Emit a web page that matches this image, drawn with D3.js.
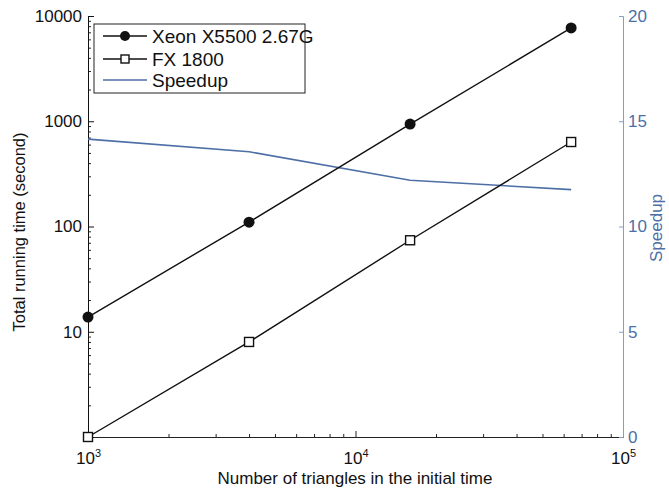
<!DOCTYPE html>
<html>
<head>
<meta charset="utf-8">
<script src="https://cdn.jsdelivr.net/npm/d3@7"></script>
<style>
  html, body { margin: 0; padding: 0; background: #fff; }
  svg { display: block; font-family: "Liberation Sans", Arial, sans-serif; }
</style>
</head>
<body>
<svg id="chart" width="669" height="491"></svg>
<script>
// Problem sizes (number of triangles)
const triangles = [1000, 4000, 16000, 64000];
// Total running time in seconds
const xeonTime = [13.8, 110, 940, 7700];
const fxTime = [1.0, 8.0, 74, 635];
// GPU speedup over CPU
const speedup = [14.15, 13.55, 12.2, 11.75];

const seriesNames = ["Xeon X5500 2.67G", "FX 1800", "Speedup"];
const xTickExps = [3, 4, 5];
const yTickValues = [10, 100, 1000, 10000];
const rightTickValues = [0, 5, 10, 15, 20];

const blue = "#4d6fa6";
const svg = d3.select("#chart");
const plotL = 88, plotR = 623, plotT = 16, plotB = 437;

const x = d3.scaleLog().domain([1e3, 1e5]).range([plotL, plotR]);
const y = d3.scaleLog().domain([1, 1e4]).range([plotB, plotT]);
const y2 = d3.scaleLinear().domain([0, 20]).range([plotB, plotT]);

// minor log ticks
const minorX = [];
[3, 4].forEach(e => { for (let m = 2; m <= 9; m++) minorX.push(m * Math.pow(10, e)); });
const minorY = [];
[0, 1, 2, 3].forEach(e => { for (let m = 2; m <= 9; m++) minorY.push(m * Math.pow(10, e)); });

function styleAxis(g, color) {
  g.select(".domain").attr("stroke", color).attr("stroke-width", 1);
  g.selectAll(".tick line").attr("stroke", color);
  g.selectAll(".tick text").attr("fill", color);
}

// bottom axis: minor + major ticks pointing inward
const gxMinor = svg.append("g").attr("transform", `translate(0,${plotB})`)
  .call(d3.axisBottom(x).tickValues(minorX).tickSize(-3).tickFormat(""));
styleAxis(gxMinor, "#222");
const gx = svg.append("g").attr("transform", `translate(0,${plotB})`)
  .call(d3.axisBottom(x).tickValues(xTickExps.map(e => Math.pow(10, e))).tickSize(-6).tickFormat(""));
styleAxis(gx, "#222");
gx.selectAll(".tick").append("text")
  .attr("y", 27).attr("text-anchor", "middle").attr("fill", "#111")
  .attr("font-size", 17)
  .each(function(d) {
    const t = d3.select(this);
    t.append("tspan").text("10");
    t.append("tspan").attr("dy", -7).attr("font-size", 11).text(Math.round(Math.log10(d)));
  });

// left axis
const gyMinor = svg.append("g").attr("transform", `translate(${plotL},0)`)
  .call(d3.axisLeft(y).tickValues(minorY).tickSize(-3).tickFormat(""));
styleAxis(gyMinor, "#222");
const gy = svg.append("g").attr("transform", `translate(${plotL},0)`)
  .call(d3.axisLeft(y).tickValues(yTickValues).tickSize(-6).tickPadding(6).tickFormat(d3.format("d")));
styleAxis(gy, "#111");
gy.selectAll(".tick text").attr("font-size", 17).attr("font-family", "Liberation Sans, Arial, sans-serif");

// right axis (speedup)
const gy2 = svg.append("g").attr("transform", `translate(${plotR},0)`)
  .call(d3.axisRight(y2).tickValues(rightTickValues).tickSize(-4).tickPadding(5));
styleAxis(gy2, "#8a9cc0");
gy2.selectAll(".tick text").attr("fill", blue).attr("font-size", 17)
  .attr("font-family", "Liberation Sans, Arial, sans-serif");

// axis titles
svg.append("text").attr("x", 355).attr("y", 484)
  .attr("text-anchor", "middle").attr("font-size", 17).attr("fill", "#111")
  .text("Number of triangles in the initial time");
svg.append("text").attr("transform", `translate(25,232) rotate(-90)`)
  .attr("text-anchor", "middle").attr("font-size", 16.5).attr("fill", "#111")
  .text("Total running time (second)");
svg.append("text").attr("transform", `translate(662,228) rotate(-90)`)
  .attr("text-anchor", "middle").attr("font-size", 17).attr("fill", blue)
  .text("Speedup");

// series
const lineLog = vals => d3.line().x((d, i) => x(triangles[i])).y(d => y(d))(vals);
svg.append("path").attr("d", d3.line().x((d, i) => x(triangles[i])).y(d => y2(d))(speedup))
  .attr("fill", "none").attr("stroke", blue).attr("stroke-width", 1.6);
svg.append("path").attr("d", lineLog(xeonTime))
  .attr("fill", "none").attr("stroke", "#111").attr("stroke-width", 1.4);
svg.append("path").attr("d", lineLog(fxTime))
  .attr("fill", "none").attr("stroke", "#111").attr("stroke-width", 1.4);

svg.selectAll("circle.xeon").data(xeonTime).join("circle").attr("class", "xeon")
  .attr("cx", (d, i) => x(triangles[i])).attr("cy", d => y(d)).attr("r", 5.5).attr("fill", "#111");
svg.selectAll("rect.fx").data(fxTime).join("rect").attr("class", "fx")
  .attr("x", (d, i) => x(triangles[i]) - 4.5).attr("y", d => y(d) - 4.5)
  .attr("width", 9).attr("height", 9).attr("fill", "#fff").attr("stroke", "#111").attr("stroke-width", 1.4);

// legend
const lg = svg.append("g");
lg.append("rect").attr("x", 94).attr("y", 24).attr("width", 211).attr("height", 69)
  .attr("fill", "#fff").attr("stroke", "#222").attr("stroke-width", 1);
const rowsY = [36, 59, 80];
seriesNames.forEach((name, i) => {
  const yy = rowsY[i];
  lg.append("line").attr("x1", 103).attr("x2", 147).attr("y1", yy).attr("y2", yy)
    .attr("stroke", i === 2 ? blue : "#111").attr("stroke-width", i === 2 ? 1.6 : 1.4);
  if (i === 0) lg.append("circle").attr("cx", 125).attr("cy", yy).attr("r", 5).attr("fill", "#111");
  if (i === 1) lg.append("rect").attr("x", 121).attr("y", yy - 4).attr("width", 8).attr("height", 8)
    .attr("fill", "#fff").attr("stroke", "#111").attr("stroke-width", 1.4);
  lg.append("text").attr("x", 152).attr("y", yy + 7).attr("font-size", 19).attr("fill", "#111").text(name);
});
</script>
</body>
</html>
